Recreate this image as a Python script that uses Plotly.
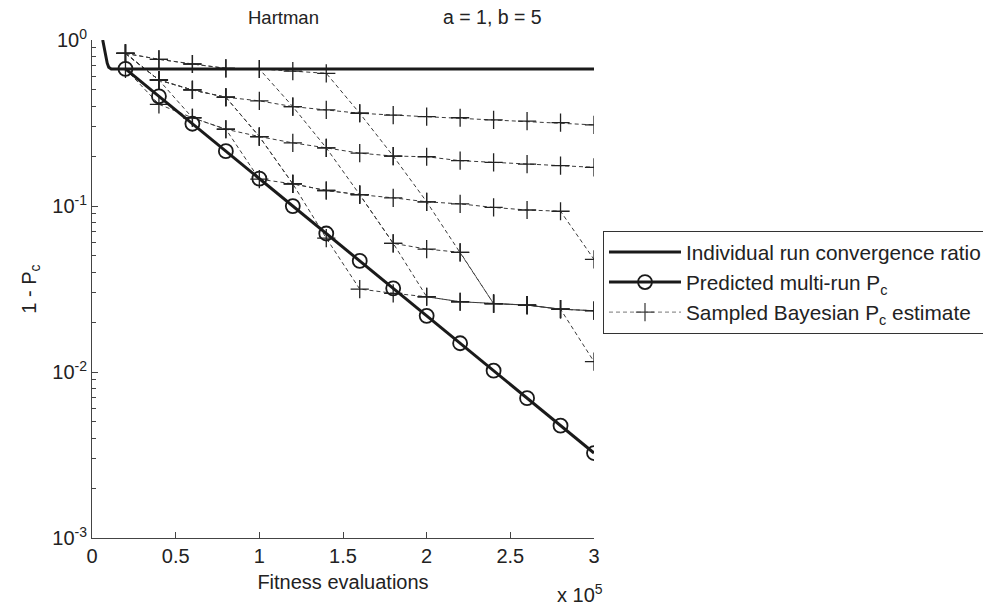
import plotly.graph_objects as go

# x in units of 1e5 fitness evaluations
steps = [0.2, 0.4, 0.6, 0.8, 1.0, 1.2, 1.4, 1.6, 1.8, 2.0, 2.2, 2.4, 2.6, 2.8, 3.0]

# Individual run convergence ratio (solid)
indiv_x = [0.064, 0.066, 0.07, 0.074, 0.079, 0.085, 0.091, 0.1, 0.115, 3.0]
indiv_y = [1.0, 0.977, 0.94, 0.90, 0.84, 0.77, 0.725, 0.685, 0.669, 0.669]

# Predicted multi-run Pc (circles)
pred_y = [0.670, 0.458, 0.313, 0.214, 0.1462, 0.0999, 0.0683, 0.0467, 0.0319,
          0.0218, 0.0149, 0.01018, 0.00696, 0.00475, 0.00325]

# Bayesian estimate levels (by number of successes), one value per step
N = None
lev0 = [0.83, 0.765, 0.717, 0.675, 0.669, 0.65, 0.63, N, N, N, N, N, N, N, N]
lev1 = [0.67, 0.574, 0.50, 0.452, 0.43, 0.397, 0.379, 0.362, 0.353, 0.345, 0.34, 0.33, 0.325, 0.318, 0.308]
lev2 = [N, 0.41, 0.34, 0.29, 0.262, 0.24, 0.224, 0.208, 0.200, 0.198, 0.1875, 0.183, 0.179, 0.175, 0.171]
lev3 = [N, N, N, N, 0.145, 0.136, 0.124, 0.117, 0.112, 0.106, 0.103, 0.098, 0.0946, 0.093, N]
lev4 = [N, N, N, N, N, N, 0.064, 0.062, 0.0596, 0.055, 0.0526, N, N, N, 0.0477]
lev5 = [N, N, N, N, N, N, N, 0.0316, 0.0298, 0.0284, 0.0265, 0.0258, 0.0253, 0.0239, 0.0234]
lev6 = [N, N, N, N, N, N, N, N, N, N, N, N, N, N, 0.01154]
levels = [lev0, lev1, lev2, lev3, lev4, lev5, lev6]

# sampled trajectories: success count at each step
traj = [
    [1, 2, 2, 2, 2, 2, 2, 2, 2, 2, 2, 2, 2, 2, 2],
    [0, 1, 1, 1, 1, 1, 1, 1, 1, 1, 1, 1, 1, 1, 1],
    [0, 0, 0, 0, 0, 0, 0, 1, 2, 3, 4, 5, 5, 5, 6],
    [0, 0, 0, 0, 0, 1, 2, 3, 4, 5, 5, 5, 5, 5, 5],
    [0, 1, 2, 2, 3, 3, 4, 5, 5, 5, 5, 5, 5, 5, 5],
    [0, 1, 1, 1, 2, 3, 3, 3, 3, 3, 3, 3, 3, 3, 4],
    [0, 1, 1, 1, 2, 3, 3, 3, 4, 4, 4, 5, 5, 5, 5],
]

FONT = "Liberation Sans, Arial, Helvetica, sans-serif"
FS = 20
fig = go.Figure()

dash_color = "#3a3a3a"
for i, t in enumerate(traj):
    ys = [levels[s][k] for k, s in enumerate(t)]
    fig.add_trace(go.Scatter(
        x=steps, y=ys, mode="lines+markers",
        line=dict(color=dash_color, width=1, dash="4px,3px"),
        marker=dict(symbol="cross-thin", size=13, line=dict(color="#222", width=1.3)),
        showlegend=False, hoverinfo="skip"))

fig.add_trace(go.Scatter(
    x=indiv_x, y=indiv_y, mode="lines",
    line=dict(color="#1a1a1a", width=3),
    name="Individual run convergence ratio", legendgroup="g1"))

fig.add_trace(go.Scatter(
    x=steps, y=pred_y, mode="lines+markers",
    line=dict(color="#1a1a1a", width=3),
    marker=dict(symbol="circle-open", size=14, color="#1a1a1a", line=dict(width=1.8)),
    name="Predicted multi-run P<sub>c</sub>", legendgroup="g2"))

fig.add_trace(go.Scatter(
    x=[None], y=[None], mode="lines+markers",
    line=dict(color="#777", width=1, dash="4px,3px"),
    marker=dict(symbol="cross-thin", size=13, line=dict(color="#444", width=1.3)),
    name="Sampled Bayesian P<sub>c</sub> estimate", legendgroup="g3"))

fig.update_layout(
    width=983, height=606,
    margin=dict(l=92, r=389, t=40, b=68, autoexpand=False),
    paper_bgcolor="white", plot_bgcolor="white",
    font=dict(family=FONT, size=FS, color="#222"),
    showlegend=True,
    legend=dict(x=(603 - 92) / 502, y=(538 - 231) / 498, xanchor="left", yanchor="top",
                bordercolor="#333", borderwidth=1, bgcolor="white",
                font=dict(size=20.8, family=FONT), itemwidth=72,
                traceorder="grouped", tracegroupgap=0),
)

fig.update_xaxes(
    range=[0, 3], tickvals=[0, 0.5, 1, 1.5, 2, 2.5, 3],
    ticktext=["0", "0.5", "1", "1.5", "2", "2.5", "3"],
    ticks="inside", ticklen=6, tickcolor="#444",
    showline=True, linecolor="#444", linewidth=1, mirror=False,
    showgrid=False, zeroline=False,
    tickfont=dict(size=FS, family=FONT),
    title=dict(text="Fitness evaluations", font=dict(size=FS, family=FONT), standoff=8),
)
fig.update_yaxes(
    type="log", range=[-3, 0],
    tickvals=[1, 0.1, 0.01, 0.001],
    ticktext=["10<sup>0</sup>", "10<sup>-1</sup>", "10<sup>-2</sup>", "10<sup>-3</sup>"],
    ticks="inside", ticklen=6, tickcolor="#444",
    minor=dict(ticks="inside", ticklen=4, tickcolor="#444", dtick="D1", showgrid=False),
    showline=True, linecolor="#444", linewidth=1, mirror=False,
    showgrid=False, zeroline=False,
    tickfont=dict(size=FS, family=FONT),
    title=dict(text="1 - P<sub>c</sub>", font=dict(size=FS, family=FONT), standoff=10),
)

fig.add_annotation(text="Hartman", xref="paper", yref="paper",
                   x=(283 - 92) / 502, y=1 + (40 - 17) / 498, showarrow=False,
                   font=dict(size=18.5, family=FONT), xanchor="center", yanchor="middle")
fig.add_annotation(text="a = 1, b = 5", xref="paper", yref="paper",
                   x=(492 - 92) / 502, y=1 + (40 - 17) / 498, showarrow=False,
                   font=dict(size=19.5, family=FONT), xanchor="center", yanchor="middle")
fig.add_annotation(text="x 10<sup>5</sup>", xref="paper", yref="paper",
                   x=(555 - 92) / 502, y=-(593 - 538) / 498, showarrow=False,
                   font=dict(size=FS, family=FONT), xanchor="left", yanchor="middle")

fig.write_html("out.html")
